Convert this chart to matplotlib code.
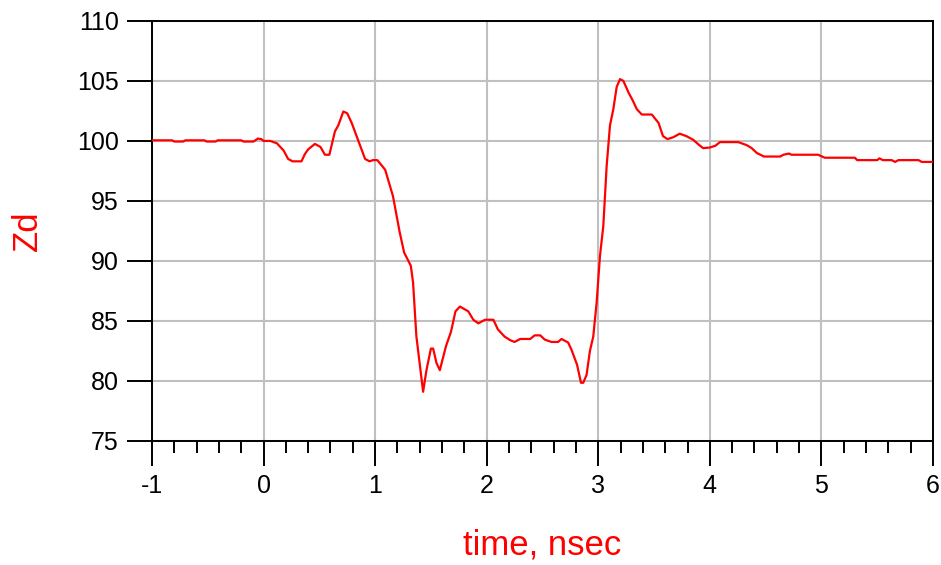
import numpy as np
import matplotlib.pyplot as plt
from matplotlib.ticker import MultipleLocator

plt.rc('font', family=['Liberation Sans', 'DejaVu Sans'])
plt.rc('axes', unicode_minus=False)

# time (nsec) and differential impedance Zd (ohm)
time_ns = [-1.00, -0.82, -0.80, -0.72, -0.70, -0.53, -0.51, -0.43, -0.41, -0.20,
           -0.18, -0.09, -0.05, -0.02, 0.00, 0.06, 0.12, 0.18, 0.22, 0.26,
           0.34, 0.37, 0.40, 0.46, 0.51, 0.55, 0.59, 0.64, 0.67, 0.715,
           0.75, 0.79, 0.85, 0.91, 0.95, 0.98, 1.02, 1.09, 1.16, 1.22,
           1.26, 1.32, 1.34, 1.37, 1.41, 1.43, 1.46, 1.50, 1.52, 1.55,
           1.58, 1.635, 1.68, 1.72, 1.76, 1.835, 1.88, 1.925, 1.985, 2.06,
           2.10, 2.16, 2.21, 2.25, 2.30, 2.39, 2.43, 2.48, 2.52, 2.58,
           2.64, 2.67, 2.73, 2.76, 2.81, 2.845, 2.865, 2.895, 2.925, 2.955,
           2.985, 3.015, 3.045, 3.075, 3.105, 3.135, 3.165, 3.195, 3.225, 3.27,
           3.31, 3.345, 3.39, 3.48, 3.54, 3.58, 3.62, 3.67, 3.73, 3.79,
           3.85, 3.905, 3.94, 4.00, 4.05, 4.09, 4.255, 4.33, 4.375, 4.42,
           4.485, 4.63, 4.66, 4.71, 4.73, 4.97, 5.03, 5.30, 5.32, 5.50,
           5.52, 5.55, 5.63, 5.66, 5.69, 5.87, 5.90, 6.00]
zd = [100.05, 100.05, 99.95, 99.95, 100.05, 100.05, 99.95, 99.95, 100.05, 100.05,
      99.95, 99.95, 100.2, 100.15, 100.0, 100.0, 99.8, 99.2, 98.5, 98.3,
      98.3, 98.9, 99.3, 99.75, 99.5, 98.85, 98.85, 100.8, 101.3, 102.45,
      102.3, 101.5, 100.0, 98.5, 98.3, 98.4, 98.4, 97.6, 95.4, 92.4,
      90.7, 89.6, 88.2, 83.7, 80.6, 79.1, 80.9, 82.7, 82.7, 81.5,
      80.9, 82.9, 84.1, 85.8, 86.2, 85.8, 85.1, 84.8, 85.1, 85.1,
      84.3, 83.7, 83.4, 83.25, 83.5, 83.5, 83.8, 83.8, 83.45, 83.25,
      83.25, 83.5, 83.2, 82.6, 81.35, 79.85, 79.85, 80.5, 82.5, 83.7,
      86.5, 90.4, 92.9, 97.9, 101.3, 102.65, 104.5, 105.15, 105.0, 104.05,
      103.35, 102.65, 102.2, 102.2, 101.5, 100.4, 100.15, 100.3, 100.6, 100.4,
      100.1, 99.65, 99.4, 99.45, 99.6, 99.9, 99.9, 99.65, 99.4, 99.0,
      98.7, 98.7, 98.85, 98.95, 98.85, 98.85, 98.6, 98.6, 98.4, 98.4,
      98.55, 98.4, 98.4, 98.25, 98.4, 98.4, 98.25, 98.25]

fig, ax = plt.subplots(figsize=(9.41, 5.65), dpi=100)
fig.subplots_adjust(left=.1615, bottom=.2195, right=.9915, top=.963)

ax.plot(time_ns, zd, color='#ff0000', lw=1.6, zorder=3)

ax.set_xlim(-1, 6)
ax.set_ylim(75, 110)
ax.xaxis.set_major_locator(MultipleLocator(1))
ax.xaxis.set_minor_locator(MultipleLocator(0.2))
ax.yaxis.set_major_locator(MultipleLocator(5))

ax.grid(True, which='major', color='#c0c0c0', lw=1.5)
ax.set_axisbelow(True)
for s in ax.spines.values():
    s.set_linewidth(1.4)
    s.set_color('black')

ax.tick_params(axis='both', which='major', direction='out', length=18, width=1.4,
               labelsize=18, pad=6)
ax.tick_params(axis='x', which='minor', direction='out', length=8.5, width=1.4)

ax.set_xlabel('time, nsec', color='#ff0000', fontsize=25, labelpad=22)
ax.set_ylabel('Zd', color='#ff0000', fontsize=25, labelpad=24)

fig.savefig('out.png', dpi=100)
